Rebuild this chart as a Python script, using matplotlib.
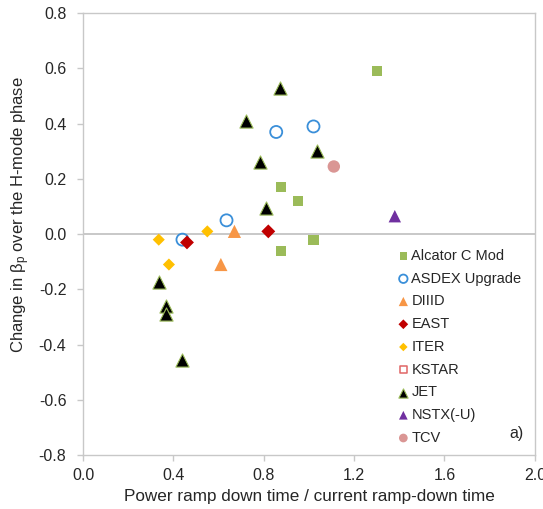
import matplotlib
matplotlib.use("Agg")
import matplotlib.pyplot as plt

plt.rcParams["font.family"] = ["Liberation Sans", "DejaVu Sans"]

# ── Data ──────────────────────────────────────────────────────────────
alcator_x = [1.30, 0.875, 0.95, 1.02, 0.875]
alcator_y = [0.59, 0.17, 0.12, -0.02, -0.06]

asdex_x = [0.855, 1.02, 0.635, 0.44]
asdex_y = [0.37, 0.39, 0.05, -0.02]

diiid_x = [0.67, 0.61]
diiid_y = [0.01, -0.11]

east_x = [0.82, 0.46]
east_y = [0.01, -0.03]

iter_x = [0.335, 0.55, 0.38]
iter_y = [-0.02, 0.01, -0.11]

kstar_x = []
kstar_y = []

jet_x = [0.87, 0.72, 0.785, 1.035, 0.81, 0.335, 0.365, 0.365, 0.44]
jet_y = [0.53, 0.41, 0.26, 0.30, 0.095, -0.175, -0.26, -0.29, -0.455]

nstx_x = [1.38]
nstx_y = [0.065]

tcv_x = [1.11]
tcv_y = [0.245]

x_ticks = [0.0, 0.4, 0.8, 1.2, 1.6, 2.0]
y_ticks = [-0.8, -0.6, -0.4, -0.2, 0.0, 0.2, 0.4, 0.6, 0.8]

# ── Plot ──────────────────────────────────────────────────────────────
fig = plt.figure(figsize=(5.43, 5.09), dpi=100)
ax = fig.add_axes([0.153, 0.106, 0.832, 0.868])

ax.axhline(0, color="#c8c8c8", lw=1.4, zorder=0)

ax.scatter(alcator_x, alcator_y, marker="s", s=55, c="#9bbb59",
           edgecolors="none", label="Alcator C Mod", zorder=3)
ax.scatter(asdex_x, asdex_y, marker="o", s=75, facecolors="none",
           edgecolors="#3a8fd9", linewidths=1.3, label="ASDEX Upgrade", zorder=3)
ax.scatter(diiid_x, diiid_y, marker="^", s=90, c="#f79646",
           edgecolors="none", label="DIIID", zorder=3)
ax.scatter(east_x, east_y, marker="D", s=50, c="#c00000",
           edgecolors="none", label="EAST", zorder=3)
ax.scatter(iter_x, iter_y, marker="D", s=38, c="#ffc000",
           edgecolors="none", label="ITER", zorder=3)
ax.scatter(kstar_x, kstar_y, marker="s", s=55, facecolors="none",
           edgecolors="#e06666", linewidths=1.1, label="KSTAR", zorder=3)
ax.scatter(jet_x, jet_y, marker="^", s=90, c="black",
           edgecolors="#9bbb59", linewidths=0.8, label="JET", zorder=3)
ax.scatter(nstx_x, nstx_y, marker="^", s=80, c="#7030a0",
           edgecolors="none", label="NSTX(-U)", zorder=3)
ax.scatter(tcv_x, tcv_y, marker="o", s=80, c="#da9694",
           edgecolors="none", label="TCV", zorder=3)

ax.set_xlim(0, 2.0)
ax.set_ylim(-0.8, 0.8)
ax.set_xticks(x_ticks)
ax.set_yticks(y_ticks)
ax.set_xticklabels([f"{v:.1f}" for v in x_ticks])
ax.set_yticklabels([f"{v:.1f}" for v in y_ticks])

for side in ax.spines.values():
    side.set_color("#c8c8c8")
    side.set_linewidth(1.0)
ax.tick_params(axis="both", direction="out", length=4, width=1.0,
               color="#c8c8c8", labelsize=11.5, labelcolor="#262626")
ax.tick_params(axis="y", pad=8)
ax.tick_params(axis="x", pad=5)

ax.set_xlabel("Power ramp down time / current ramp-down time",
              fontsize=12.3, color="#262626", labelpad=5)
ax.set_ylabel(r"Change in $\mathregular{\beta_p}$ over the H-mode phase",
              fontsize=12, color="#262626")
# label sits a bit above the axes centre in the original
ax.yaxis.set_label_coords(-0.113, 0.545)

leg = ax.legend(loc="lower right", bbox_to_anchor=(0.993, 0.0),
                frameon=False, fontsize=10.5, handletextpad=0.05,
                labelspacing=0.6, borderaxespad=0.3, markerscale=0.7,
                handlelength=1.0)
for t in leg.get_texts():
    t.set_color("#262626")

ax.text(0.975, 0.032, "a)", transform=ax.transAxes, ha="right", va="bottom",
        fontsize=11.5, color="#262626")

fig.savefig("out.png", dpi=100)
